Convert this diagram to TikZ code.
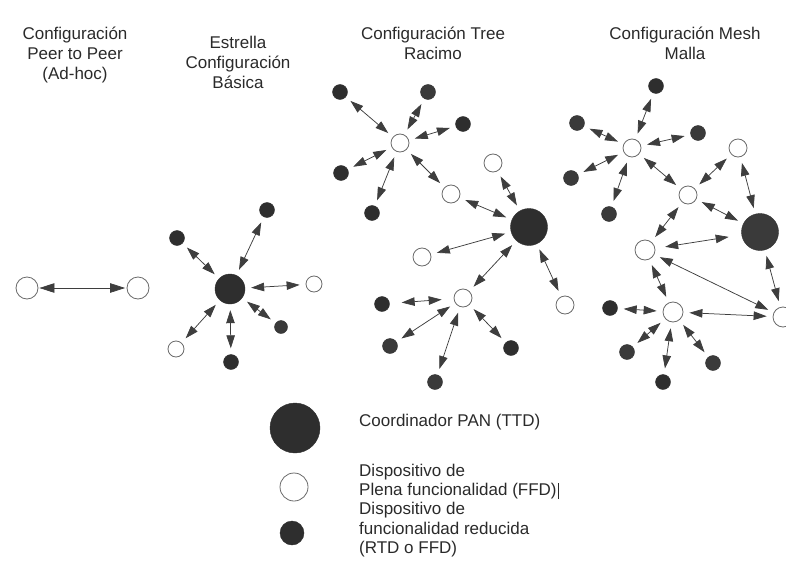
\documentclass[tikz,border=0pt]{standalone}
\usepackage{fontspec}
\setmainfont{Liberation Sans}
\usetikzlibrary{arrows.meta}
\definecolor{nodedark}{HTML}{2E2E2E}
\definecolor{nodemid}{HTML}{3A3A3A}
\definecolor{ringgray}{HTML}{6A6A6A}
\definecolor{linkgray}{HTML}{3E3E3E}
\definecolor{txtgray}{HTML}{2A2A2A}
\tikzset{
  rfd/.style={circle, inner sep=0pt, fill=nodedark, draw=nodedark, line width=0.4pt, minimum size=15pt},
  ffd/.style={circle, inner sep=0pt, fill=white, draw=ringgray, line width=0.8pt, minimum size=18pt},
  pan/.style={circle, inner sep=0pt, fill=nodedark, draw=nodedark, minimum size=37pt},
  tip/.tip={Triangle[length=13pt,width=8.5pt]},
  bigtip/.tip={Triangle[length=15pt,width=9.5pt]},
  link/.style={tip-tip,
    draw=linkgray, line width=0.75pt, shorten <=6pt, shorten >=6pt},
  biglink/.style={bigtip-bigtip,
    draw=linkgray, line width=0.75pt, shorten <=1pt, shorten >=1.5pt},
  title/.style={align=center, text=txtgray, font=\fontsize{17}{20}\selectfont, inner sep=0pt},
  legtext/.style={align=left, anchor=west, text=txtgray, font=\fontsize{17}{19.5}\selectfont, inner sep=0pt}
}
\begin{document}
\begin{tikzpicture}[x=1pt, y=-1pt]
\useasboundingbox (0,0) rectangle (786,583);

% titles
\node[title] (h1) at (75,55) {Configuración\\Peer to Peer\\(Ad-hoc)};
\node[title] (h2) at (238,62) {Estrella\\Configuración\\Básica};
\node[title] (h3) at (433,43) {Configuración Tree\\Racimo};
\node[title] (h4) at (685,43) {Configuración Mesh\\Malla};

% peer to peer
\node[ffd, minimum size=22pt] (p1) at (27,288) {};
\node[ffd, minimum size=22pt] (p2) at (138,288) {};
\draw[biglink] (p1) -- (p2);

% star
\node[pan, minimum size=30pt] (s0) at (230,289) {};
\node[rfd] (s1) at (267,210) {};
\node[rfd] (s2) at (177,238) {};
\node[ffd, minimum size=16pt] (s3) at (314,284) {};
\node[rfd, fill=nodemid, minimum size=13pt] (s4) at (281,327) {};
\node[rfd] (s5) at (231,362) {};
\node[ffd, minimum size=16pt] (s6) at (176,349) {};
\foreach \n in {s1,s2,s3,s4,s5,s6} \draw[link] (s0) -- (\n);

% tree
\node[pan] (t0) at (529,227) {};
\node[ffd] (ta) at (400,143) {};
\node[rfd] (ta1) at (340,92) {};
\node[rfd, fill=nodemid] (ta2) at (428,92) {};
\node[rfd] (ta3) at (463,124) {};
\node[rfd] (ta4) at (341,173) {};
\node[rfd] (ta5) at (372,213) {};
\node[ffd] (tw1) at (451,194) {};
\node[ffd] (tw2) at (493,163) {};
\node[ffd] (tw3) at (422,257) {};
\node[ffd] (tw4) at (565,305) {};
\node[ffd] (tb) at (463,298) {};
\node[rfd] (tb1) at (382,304) {};
\node[rfd, fill=nodemid] (tb2) at (390,346) {};
\node[rfd, fill=nodemid] (tb3) at (435,382) {};
\node[rfd] (tb4) at (511,348) {};
\foreach \n in {ta1,ta2,ta3,ta4,ta5,tw1} \draw[link] (ta) -- (\n);
\foreach \n in {tw1,tw2,tw3,tw4,tb} \draw[link] (t0) -- (\n);
\draw[link, shorten <=12pt, shorten >=12pt] (tb) -- (tb1);
\foreach \n in {tb2,tb3,tb4} \draw[link] (tb) -- (\n);

% mesh
\node[pan, fill=nodemid] (m0) at (760,232) {};
\node[ffd] (mh1) at (632,148) {};
\node[rfd] (m1) at (656,86) {};
\node[rfd, fill=nodemid] (m2) at (577,123) {};
\node[rfd, fill=nodemid] (m3) at (698,133) {};
\node[rfd, fill=nodemid] (m4) at (571,178) {};
\node[rfd, fill=nodemid] (m5) at (609,214) {};
\node[ffd] (mwt) at (738,148) {};
\node[ffd] (mwm) at (688,195) {};
\node[ffd, minimum size=20pt] (mwl) at (645,250) {};
\node[ffd, minimum size=20pt] (mwr) at (783,317) {};
\node[ffd, minimum size=20pt] (mh2) at (673,312) {};
\node[rfd] (m6) at (610,308) {};
\node[rfd, fill=nodemid] (m7) at (627,352) {};
\node[rfd] (m8) at (663,382) {};
\node[rfd, fill=nodemid] (m9) at (713,363) {};
\foreach \n in {m1,m2,m3,m4,m5,mwm} \draw[link] (mh1) -- (\n);
\draw[link] (mwm) -- (mwt);
\draw[link] (mwt) -- (m0);
\draw[link] (mwm) -- (m0);
\draw[link] (mwm) -- (mwl);
\draw[link, shorten <=10pt, shorten >=13pt] (mwl) -- (m0);
\draw[link] (mwl) -- (mwr);
\draw[link] (mwl) -- (mh2);
\draw[link] (m0) -- (mwr);
\draw[link] (mh2) -- (mwr);
\foreach \n in {m6,m7,m8,m9} \draw[link] (mh2) -- (\n);

% legend
\node[pan, minimum size=50pt] (l1) at (295,428) {};
\node[ffd, minimum size=28pt] (l2) at (294,487) {};
\node[rfd, minimum size=24pt] (l3) at (292,533) {};
\node[legtext] (lt1) at (359,422) {Coordinador PAN (TTD)};
\node[legtext] (lt2) at (359,481.5) {Dispositivo de\\Plena funcionalidad (FFD)\hspace{1pt}\rule[-3pt]{0.7pt}{16pt}};
\node[legtext] (lt3) at (359,530) {Dispositivo de\\funcionalidad reducida\\(RTD o FFD)};
\end{tikzpicture}
\end{document}
